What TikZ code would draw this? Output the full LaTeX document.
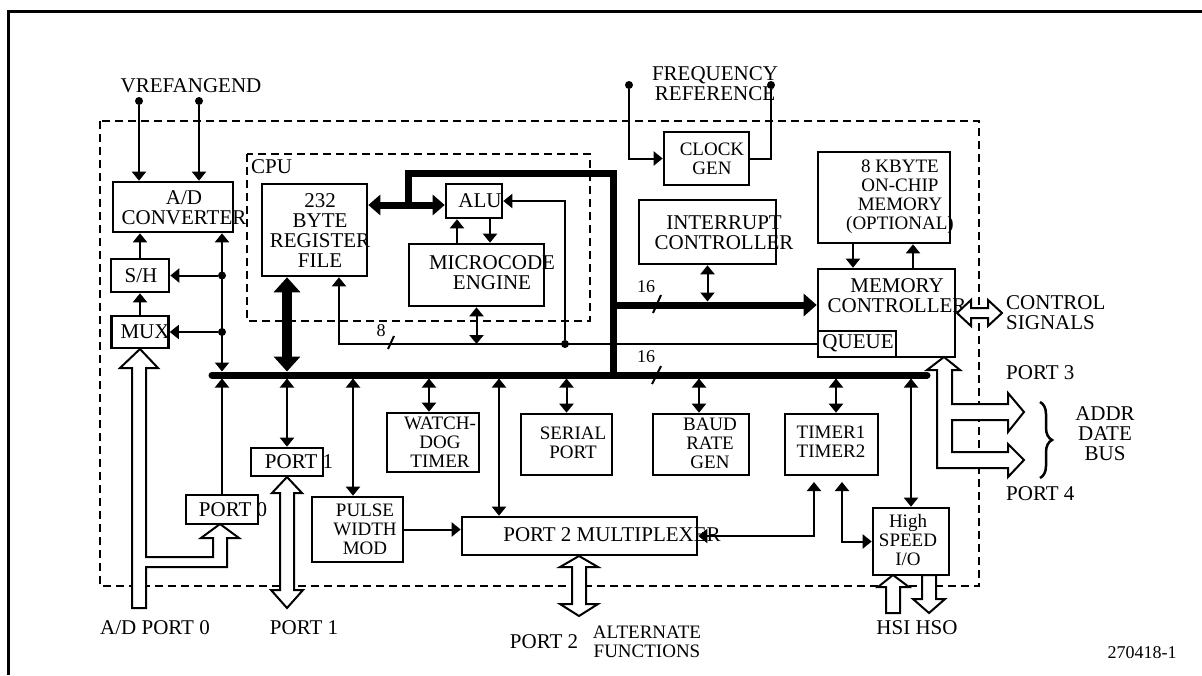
\documentclass[tikz,border=0pt]{standalone}
\usepackage{fontspec}
\setmainfont{Liberation Serif}
\usetikzlibrary{arrows.meta, decorations.pathreplacing}

\begin{document}
\begin{tikzpicture}[x=1pt, y=-1pt, >={Triangle[width=14pt,length=9pt]},
  blk/.style={draw, line width=2.6pt, inner sep=0pt},
  txt/.style={align=center, inner sep=0pt, font=\fontsize{21}{20}\selectfont},
  tight/.style={txt, font=\fontsize{19}{19}\selectfont},
  small/.style={inner sep=0pt, font=\fontsize{18}{18}\selectfont},
  conn/.style={line width=2pt},
  bus/.style={line width=7pt},
  fatarrow/.style={line width=10pt, {Triangle[width=26pt,length=15pt]}-{Triangle[width=26pt,length=15pt]}},
  hollow/.style={draw, fill=white, line width=2pt, line join=miter},
  dot/.style={circle, fill, inner sep=0pt, minimum size=8pt},
  dashbox/.style={line width=1.3pt, dash pattern=on 8pt off 5pt}]

  \useasboundingbox (0,0) rectangle (1202,675);
  % frame
  \draw[line width=3pt] (8,675) -- (8,11) -- (1202,11);
  % chip and cpu outlines
  \draw[dashbox] (100,121) rectangle (979,586);
  \draw[dashbox] (247,154) rectangle (590,321);
  \node[txt, anchor=west] (cpulbl) at (251,167) {CPU};

  % blocks
  \node[blk, minimum width=120pt, minimum height=50pt] (adc) at (173,207) {};
  \node[txt] (adct) at (184,208) {A/D\\CONVERTER};
  \node[blk, minimum width=58pt, minimum height=33pt] (sh) at (140,275.5) {};
  \node[txt] (sht) at (141,276) {S/H};
  \node[blk, minimum width=57pt, minimum height=32pt] (mux) at (140,332) {};
  \node[txt] (muxt) at (145,332) {MUX};
  \node[blk, minimum width=105pt, minimum height=92pt] (rf) at (314.5,230) {};
  \node[txt] (rft) at (320,231) {232\\BYTE\\REGISTER\\FILE};
  \node[blk, minimum width=56pt, minimum height=34pt] (alu) at (474,201) {};
  \node[txt] (alut) at (480,201) {ALU};
  \node[blk, minimum width=135pt, minimum height=62pt] (me) at (476.5,275) {};
  \node[txt] (met) at (492,273) {MICROCODE\\ENGINE};
  \node[blk, minimum width=85pt, minimum height=53pt] (clk) at (706.5,158.5) {};
  \node[tight] (clkt) at (712,159) {CLOCK\\GEN};
  \node[blk, minimum width=137pt, minimum height=64pt] (intc) at (707.5,232) {};
  \node[txt] (intct) at (724,233) {INTERRUPT\\CONTROLLER};
  \node[blk, minimum width=132pt, minimum height=91pt] (mem8k) at (884,197.5) {};
  \node[tight] (mem8kt) at (900,197) {8 KBYTE\\ON-CHIP\\MEMORY\\(OPTIONAL)};
  \node[blk, minimum width=137pt, minimum height=88pt] (memc) at (886.5,313) {};
  \node[txt] (memct) at (897,296) {MEMORY\\CONTROLLER};
  \node[blk, minimum width=78pt, minimum height=26pt] (queue) at (857,344) {};
  \node[txt] (queuet) at (858,343) {QUEUE};
  \node[blk, minimum width=72pt, minimum height=28pt] (port1) at (287,462) {};
  \node[txt] (port1t) at (299,462) {PORT 1};
  \node[blk, minimum width=72pt, minimum height=29pt] (port0) at (222,509.5) {};
  \node[txt] (port0t) at (233,510) {PORT 0};
  \node[blk, minimum width=91pt, minimum height=65pt] (pwm) at (357.5,529.5) {};
  \node[tight] (pwmt) at (365,529) {PULSE\\WIDTH\\MOD};
  \node[blk, minimum width=92pt, minimum height=59pt] (wdt) at (433,442.5) {};
  \node[tight] (wdtt) at (440,442) {WATCH-\\DOG\\TIMER};
  \node[blk, minimum width=91pt, minimum height=61pt] (sio) at (566.5,444.5) {};
  \node[tight] (siot) at (573,443) {SERIAL\\PORT};
  \node[blk, minimum width=96pt, minimum height=61pt] (baud) at (701,444.5) {};
  \node[tight] (baudt) at (710,443) {BAUD\\RATE\\GEN};
  \node[blk, minimum width=93pt, minimum height=61pt] (tmr) at (831.5,444.5) {};
  \node[tight] (tmrt) at (831,442) {TIMER1\\TIMER2};
  \node[blk, minimum width=76pt, minimum height=67pt] (hsio) at (911,541.5) {};
  \node[tight] (hsiot) at (908,540) {High\\SPEED\\I/O};
  \node[blk, minimum width=235pt, minimum height=38pt] (p2mux) at (579.5,536) {};
  \node[txt] (p2muxt) at (612,535) {PORT 2 MULTIPLEXER};

  % main bus
  \coordinate (busL) at (212,375);
  \coordinate (busR) at (927,375);
  \coordinate (bustop) at (0,371.5);
  \coordinate (busbot) at (0,378.5);
  \draw[bus, line cap=round] (busL) -- (busR);

  % A/D side
  \node[dot] (vr1) at (139,101) {};
  \node[dot] (vr2) at (199,101) {};
  \draw[conn,->] (vr1) -- (vr1 |- adc.north);
  \draw[conn,->] (vr2) -- (vr2 |- adc.north);
  \draw[conn,->] (sh.north) -- (sh.north |- adc.south);
  \draw[conn,->] (mux.north) -- (sh.south);
  \node[dot] (shtap) at (port0.north |- sh.east) {};
  \node[dot] (muxtap) at (port0.north |- mux.east) {};
  \draw[conn,->] (shtap) -- (sh.east);
  \draw[conn,->] (muxtap) -- (mux.east);
  \draw[conn,<->] (port0.north |- adc.south) -- (port0.north |- bustop);
  \draw[conn,->] (port0.north) -- (port0.north |- busbot);

  % bus taps
  \draw[fatarrow] (rf.south -| port1.north) -- (port1.north |- bustop);
  \draw[conn,<->] (port1.north |- busbot) -- (port1.north);
  \draw[conn,<->] (353,0 |- busbot) -- (353,0 |- pwm.north);
  \draw[conn,<->] (429,0 |- busbot) -- (429,0 |- wdt.north);
  \draw[conn,<->] (499,0 |- busbot) -- (499,0 |- p2mux.north);
  \draw[conn,<->] (sio.north |- busbot) -- (sio.north);
  \draw[conn,<->] (699,0 |- busbot) -- (699,0 |- baud.north);
  \draw[conn,<->] (836,0 |- busbot) -- (836,0 |- tmr.north);
  \draw[conn,<->] (hsio.north |- busbot) -- (hsio.north);
  \draw[conn,->] (pwm.east) -- (pwm.east -| p2mux.west);
  \coordinate (tmrin1) at (814,482);
  \coordinate (tmrin2) at (842,482);
  \draw[conn,<->] (p2mux.east) -| (tmrin1);
  \draw[conn,<->] (tmrin2) |- (hsio.west);

  % cpu
  \coordinate (cpuj1) at (408,205);
  \coordinate (cpuj2) at (613,173);
  \draw[bus, {Triangle[width=20pt,length=12pt]}-{Triangle[width=20pt,length=12pt]}] (rf.east |- cpuj1) -- (alu.west |- cpuj1);
  \draw[bus] (cpuj1) |- (cpuj2) -- (cpuj2 |- busL);
  \draw[conn,->] (457,0 |- me.north) -- (457,0 |- alu.south);
  \draw[conn,->] (490,0 |- alu.south) -- (490,0 |- me.north);
  \draw[conn,->] (queue.west) -| (339,0 |- rf.south);
  \draw[conn,<->] (me.south) -- (me.south |- queue.west);
  \node[dot] (alutap) at (565,0 |- queue.west) {};
  \draw[conn,->] (alutap) |- (alu.east);
  \node[small] (w8) at (381,331) {8};
  \draw[conn] (388,349) -- (394,336);

  % memory side
  \coordinate (mbus) at (613,305);
  \draw[bus, -{Triangle[width=22pt,length=13pt]}] (mbus) -- (mbus -| memc.west);
  \draw[conn,<->, shorten >=3.5pt] (intc.south) -- (intc.south |- mbus);
  \draw[conn,->] (853,0 |- mem8k.south) -- (853,0 |- memc.north);
  \draw[conn,->] (913,0 |- memc.north) -- (913,0 |- mem8k.south);
  \node[small] (w16a) at (646,287) {16};
  \draw[conn] (653,313) -- (661,295);
  \node[small] (w16b) at (646,357) {16};
  \draw[conn] (652,384) -- (661,366);

  % clock
  \node[dot] (fr1) at (629,85) {};
  \node[dot] (fr2) at (771,85) {};
  \draw[conn,->] (fr1) |- (clk.west);
  \draw[conn] (fr2) |- (clk.east);

  % wide ports
  \draw[hollow] (132,608) -- (132,368) -- (120,368) -- (140,349) -- (158,368) -- (146,368)
    -- (146,557) -- (213,557) -- (213,538) -- (201,538) -- (220,524) -- (239,538) -- (227,538)
    -- (227,567) -- (146,567) -- (146,608) -- cycle;
  \draw[hollow] (287,477) -- (302,493) -- (294,493) -- (294,590) -- (303,590) -- (287,608)
    -- (271,590) -- (280,590) -- (280,493) -- (272,493) -- cycle;
  \draw[hollow] (579,556) -- (598,567) -- (586,567) -- (586,604) -- (598,604) -- (579,616)
    -- (560,604) -- (572,604) -- (572,567) -- (560,567) -- cycle;
  \draw[hollow] (893,575) -- (909,587) -- (900,587) -- (900,613) -- (886,613) -- (886,587)
    -- (878,587) -- cycle;
  \draw[hollow] (922,575) -- (936,575) -- (936,599) -- (945,599) -- (929,613) -- (913,599)
    -- (922,599) -- cycle;
  \draw[hollow] (957,313) -- (971,300) -- (971,308) -- (988,308) -- (988,300) -- (1002,313)
    -- (988,326) -- (988,318) -- (971,318) -- (971,326) -- cycle;
  \draw[hollow] (937,468) -- (937,370) -- (927,370) -- (944,357) -- (960,370) -- (952,370)
    -- (952,404) -- (1008,404) -- (1008,393) -- (1024,412) -- (1008,432) -- (1008,420)
    -- (952,420) -- (952,452) -- (1008,452) -- (1008,444) -- (1024,460) -- (1008,477)
    -- (1008,468) -- cycle;
  \draw[line width=2.5pt, decorate, decoration={brace, amplitude=12pt}] (1040,402) -- (1040,478);

  % outside labels
  \node[txt] (vref) at (191,86) {VREFANGEND};
  \node[txt] (freq) at (715,84) {FREQUENCY\\REFERENCE};
  \node[txt, align=left, anchor=west] (ctrl) at (1006,313) {CONTROL\\SIGNALS};
  \node[txt, anchor=west] (p3) at (1006,373) {PORT 3};
  \node[txt, anchor=west] (p4) at (1006,494) {PORT 4};
  \node[txt] (addr) at (1105,434) {ADDR\\DATE\\BUS};
  \node[txt] (adp0) at (155,628) {A/D PORT 0};
  \node[txt] (p1) at (304,628) {PORT 1};
  \node[txt] (p2) at (544,642) {PORT 2};
  \node[tight] (alt) at (647,642) {ALTERNATE\\FUNCTIONS};
  \node[txt] (hsx) at (917,628) {HSI HSO};
  \node[small] (fig) at (1142,653) {270418-1};
\end{tikzpicture}
\end{document}
